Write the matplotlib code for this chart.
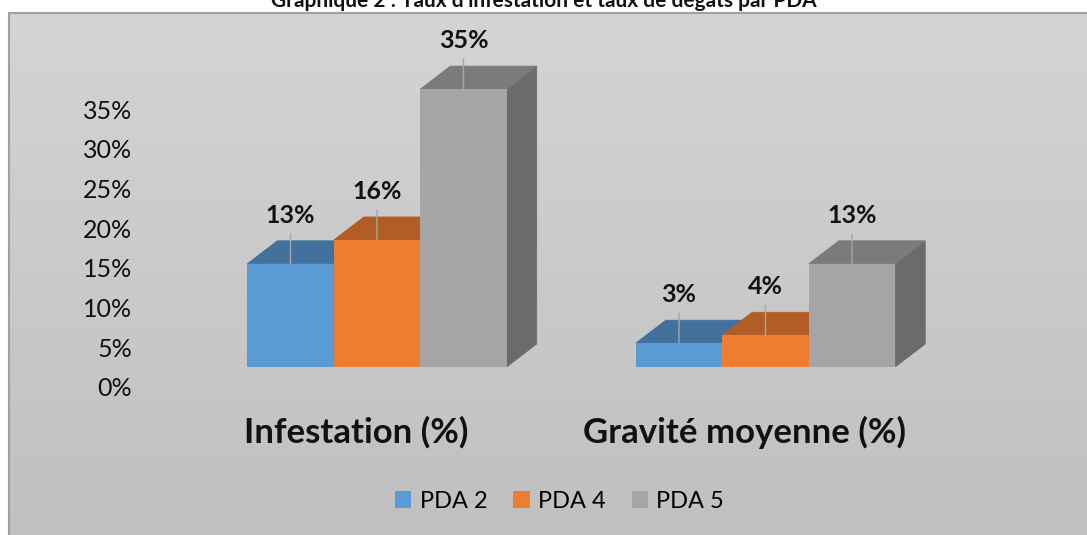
import numpy as np
import matplotlib
matplotlib.use("Agg")
import matplotlib.pyplot as plt
from matplotlib.patches import Patch, Polygon
from matplotlib.transforms import ScaledTranslation

plt.rcParams['font.family'] = ['Lato', 'DejaVu Sans']

# ---- data ----
title = "Graphique 2 : Taux d'infestation et taux de dégâts par PDA"
categories = ["Infestation (%)", "Gravité moyenne (%)"]
series_names = ["PDA 2", "PDA 4", "PDA 5"]
pda2 = [0.13, 0.03]
pda4 = [0.16, 0.04]
pda5 = [0.35, 0.13]
series_values = [pda2, pda4, pda5]
y_ticks = [0, 0.05, 0.10, 0.15, 0.20, 0.25, 0.30, 0.35]
y_tick_labels = ["0%", "5%", "10%", "15%", "20%", "25%", "30%", "35%"]

# ---- style ----
front_colors = ["#5b9bd5", "#ed7d31", "#a5a5a5"]
top_colors = ["#41719c", "#b25d25", "#7b7b7b"]
side_colors = ["#3b6790", "#a65722", "#6b6b6b"]

W, H = 1087, 535
fig = plt.figure(figsize=(W / 100, H / 100), dpi=100)
fig.patch.set_facecolor("white")

# background (chart area with gradient and border)
bg = fig.add_axes([0, 0, 1, 1], zorder=0)
bg.set_xlim(0, W)
bg.set_ylim(H, 0)
bg.axis("off")
grad = np.linspace(0, 1, 256).reshape(-1, 1)
cmap = matplotlib.colors.LinearSegmentedColormap.from_list("g", ["#d4d4d4", "#c0c0c0"])
bg.imshow(grad, extent=(9, W, H, 13), cmap=cmap, aspect="auto", zorder=0)
bg.plot([9, 9], [13, H], color="#a0a0a0", lw=1.5, zorder=1)
bg.plot([9, W], [13, 13], color="#a0a0a0", lw=1.5, zorder=1)

# title (cut off at the top like the reference)
fig.text(0.5, 1 - 7 / H, title, ha="center", va="baseline",
         fontsize=15, fontweight="bold", color="#111111")

# main axes
px_per_unit = 794.0
ax_left, ax_right = 182.75, 959.75
ax_bottom_px = 367
ax_h = 0.40 * px_per_unit
ax = fig.add_axes([ax_left / W, (H - ax_bottom_px) / H,
                   (ax_right - ax_left) / W, ax_h / H], zorder=2)
ax.set_facecolor("none")
ax.set_xlim(-0.5, 1.5)
ax.set_ylim(0, 0.40)
for s in ax.spines.values():
    s.set_visible(False)

group_w = 388.5
bar_w = 86.5 / group_w
depth_x = 30 / group_w
depth_y = 23 / px_per_unit

x = np.arange(len(categories))
n = len(series_values)
offsets = (np.arange(n) - (n - 1) / 2) * bar_w

for i, (vals, name) in enumerate(zip(series_values, series_names)):
    xs = x + offsets[i]
    ax.bar(xs, vals, width=bar_w, color=front_colors[i], zorder=10,
           label=name, linewidth=0)
    for xc, v in zip(xs, vals):
        x0, x1 = xc - bar_w / 2, xc + bar_w / 2
        top = Polygon([(x0, v), (x1, v), (x1 + depth_x, v + depth_y),
                       (x0 + depth_x, v + depth_y)], closed=True,
                      facecolor=top_colors[i], edgecolor=top_colors[i],
                      lw=0.5, zorder=3 + i)
        side = Polygon([(x1, 0), (x1 + depth_x, depth_y),
                        (x1 + depth_x, v + depth_y), (x1, v)], closed=True,
                       facecolor=side_colors[i], edgecolor=side_colors[i],
                       lw=0.5, zorder=2 + i)
        ax.add_patch(side)
        ax.add_patch(top)
        ax.annotate(f"{v * 100:.0f}%", xy=(xc, v), xytext=(0, 41 * 0.72),
                    textcoords="offset points", ha="center", va="baseline",
                    fontsize=18, fontweight="bold", color="#111111",
                    zorder=20,
                    arrowprops=dict(arrowstyle="-", color="#a6a6a6", lw=1,
                                    shrinkA=3, shrinkB=0))

# y ticks (shifted down like the 3D back wall)
ax.set_yticks(y_ticks)
ax.set_yticklabels(y_tick_labels, fontsize=18, color="#111111")
ax.tick_params(axis="y", length=0, pad=36.5)
off_y = ScaledTranslation(0, -20 / 100, fig.dpi_scale_trans)
for lab in ax.get_yticklabels():
    lab.set_transform(lab.get_transform() + off_y)

# category labels
ax.set_xticks(x)
ax.set_xticklabels(categories, fontsize=25, fontweight="bold",
                   color="#111111", va="baseline")
ax.tick_params(axis="x", length=0, pad=76 * 0.72)
off_x = ScaledTranslation(-21 / 100, 0, fig.dpi_scale_trans)
for lab in ax.get_xticklabels():
    lab.set_transform(lab.get_transform() + off_x)

handles = [Patch(facecolor=c, edgecolor="none") for c in front_colors]
fig.legend(handles, series_names, loc="center", ncol=3,
           bbox_to_anchor=(559.5 / W, 34 / H), frameon=False,
           fontsize=17, handlelength=0.7, handleheight=0.7,
           handletextpad=0.35, columnspacing=1.1)

fig.savefig("out.png", dpi=100)
